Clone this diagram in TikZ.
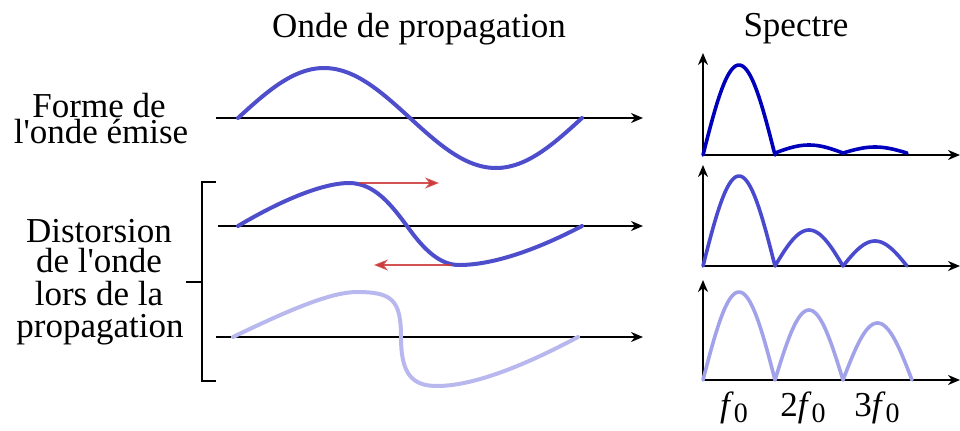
\documentclass[tikz,border=0pt]{standalone}
\usepackage{fontspec}
\setmainfont{Liberation Serif}[Ligatures=TeXOff]
\usetikzlibrary{arrows.meta}
\definecolor{waveA}{RGB}{78,78,204}
\definecolor{waveC}{RGB}{184,184,238}
\definecolor{specA}{RGB}{0,0,188}
\definecolor{specB}{RGB}{74,74,206}
\definecolor{specC}{RGB}{162,162,234}
\definecolor{redarrow}{RGB}{204,52,52}
\begin{document}
\begin{tikzpicture}[x=0.5pt,y=-0.5pt,
  lbl/.style={font=\fontsize{17.5}{20}\selectfont, inner sep=0pt, anchor=base},
  axis/.style={line width=1pt, -{Stealth[length=6pt,width=5pt]}},
  brack/.style={line width=1pt},
  wave/.style={line width=2pt, line cap=round, line join=round},
  spec/.style={line width=1.8pt, line cap=round, line join=round},
  redarr/.style={line width=1pt, draw=redarrow, opacity=0.85, -{Stealth[length=7pt,width=5.5pt]}}]
\useasboundingbox (0,0) rectangle (960,430);

% titles
\node[lbl] (t1) at (419,37) {Onde de propagation};
\node[lbl] (t2) at (796,36) {Spectre};

% left labels
\node[lbl] (f1) at (99,117) {Forme de};
\node[lbl] (f2) at (101,143) {l'onde émise};
\node[lbl] (d1) at (99,242) {Distorsion};
\node[lbl] (d2) at (99,272) {de l'onde};
\node[lbl] (d3) at (99,305) {lors de la};
\node[lbl] (d4) at (100,337) {propagation};

% bracket
\coordinate (bt) at (216,182);
\coordinate (bb) at (216,381);
\coordinate (bm) at (186,282);
\draw[brack] (bt) -- (202,182) -- (202,381) -- (bb);
\draw[brack] (bm) -- (202,282);

% wave axes
\coordinate (a1s) at (216,118); \coordinate (a1e) at (643,118);
\coordinate (a2s) at (218,226); \coordinate (a2e) at (643,226);
\coordinate (a3s) at (216,337); \coordinate (a3e) at (643,337);
\draw[axis] (a1s) -- (a1e);
\draw[axis] (a2s) -- (a2e);
\draw[axis] (a3s) -- (a3e);

% wave 1 (sine)
\draw[wave, draw=waveA] plot[domain=0:360, samples=120, smooth] ({238+\x/360*344},{118-50*sin(\x)});

% wave 2 (distorted)
\draw[wave, draw=waveA] (238,226) .. controls (285,198) and (325,183) .. (349,183)
  .. controls (375,183) and (392,206) .. (407,226)
  .. controls (424,250) and (440,265) .. (459,265)
  .. controls (495,265) and (540,248) .. (582,226);

% red arrows
\coordinate (r1s) at (360,183); \coordinate (r1e) at (439,183);
\coordinate (r2s) at (452,265); \coordinate (r2e) at (374,265);
\draw[redarr] (r1s) -- (r1e);
\draw[redarr] (r2s) -- (r2e);

% wave 3 (strongly distorted)
\draw[wave, draw=waveC] (233,337) .. controls (295,307) and (333,292) .. (357,292)
  .. controls (392,292) and (401,300) .. (401,337)
  .. controls (401,374) and (412,386) .. (437,386)
  .. controls (478,386) and (535,360) .. (578,337);

% spectrum axes
\coordinate (o1) at (703,155); \coordinate (y1) at (703,53); \coordinate (x1) at (960,155);
\coordinate (o2) at (703,266); \coordinate (y2) at (703,165); \coordinate (x2) at (960,266);
\coordinate (o3) at (703,380); \coordinate (y3) at (703,280); \coordinate (x3) at (960,380);
\draw[axis] (o1) -- (y1); \draw[axis] (o1) -- (x1);
\draw[axis] (o2) -- (y2); \draw[axis] (o2) -- (x2);
\draw[axis] (o3) -- (y3); \draw[axis] (o3) -- (x3);

% spectrum 1
\draw[spec, draw=specA] plot[domain=0:180, samples=50] ({703+\x/180*72},{155-90*sin(\x)})
  -- plot[domain=0:180, samples=30] ({775+\x/180*68},{153-8*sin(\x)})
  -- plot[domain=0:180, samples=30] ({843+\x/180*64},{153-6*sin(\x)});
% spectrum 2
\draw[spec, draw=specB] plot[domain=0:180, samples=50] ({703+\x/180*72},{266-90*sin(\x)})
  -- plot[domain=0:180, samples=40] ({775+\x/180*68},{266-36*sin(\x)})
  -- plot[domain=0:180, samples=40] ({843+\x/180*64},{266-25*sin(\x)});
% spectrum 3
\draw[spec, draw=specC] plot[domain=0:180, samples=50] ({703+\x/180*72},{380-88*sin(\x)})
  -- plot[domain=0:180, samples=50] ({775+\x/180*68},{380-70*sin(\x)})
  -- plot[domain=0:180, samples=50] ({843+\x/180*69},{380-57*sin(\x)});

% frequency labels
\node[lbl] (fa) at (734,416) {\textit{f}\raisebox{-3pt}{\fontsize{14}{14}\selectfont 0}};
\node[lbl] (fb) at (803,416) {2\textit{f}\raisebox{-3pt}{\fontsize{14}{14}\selectfont 0}};
\node[lbl] (fc) at (877,416) {3\textit{f}\raisebox{-3pt}{\fontsize{14}{14}\selectfont 0}};
\end{tikzpicture}
\end{document}
